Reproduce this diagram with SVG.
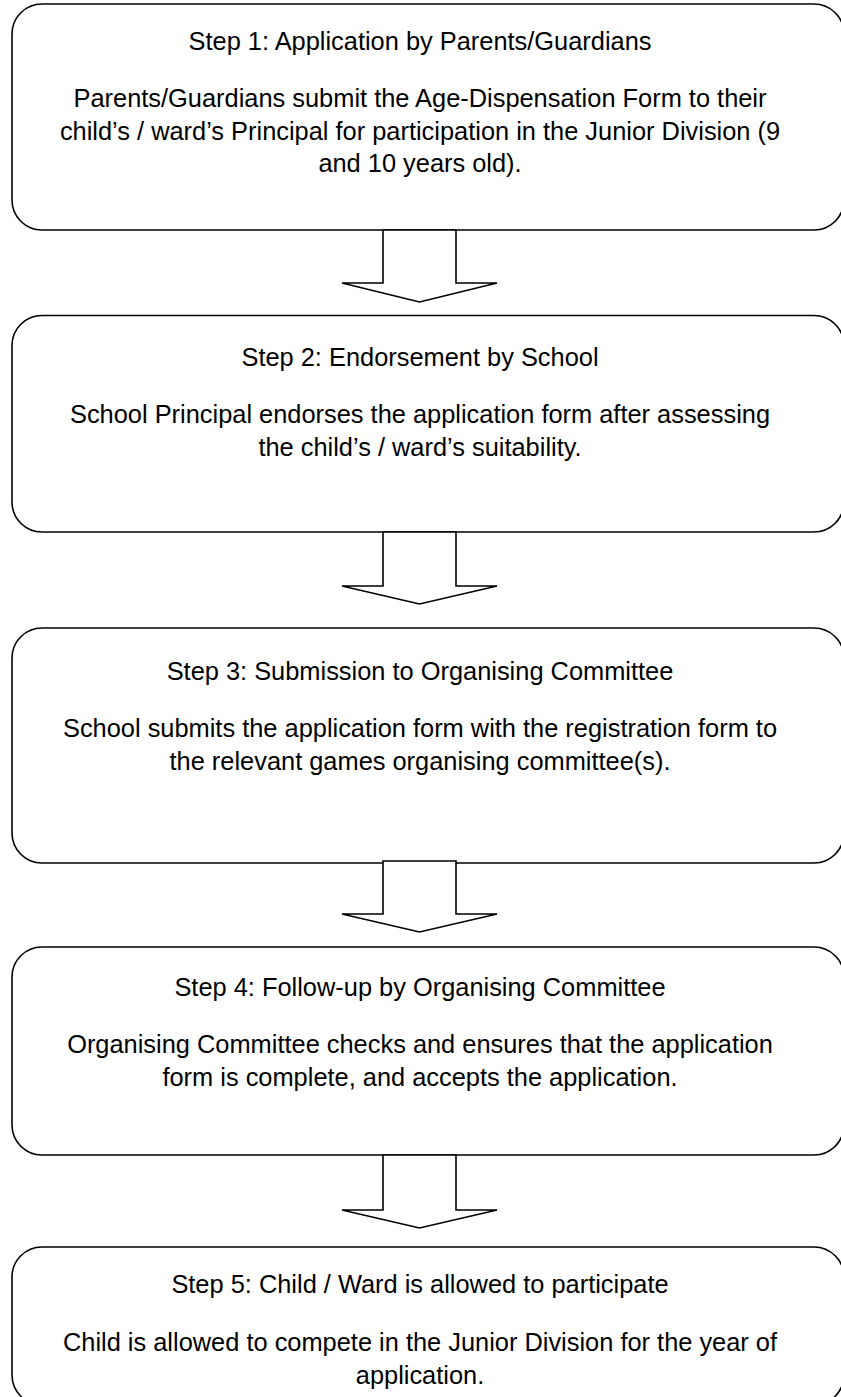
<svg xmlns="http://www.w3.org/2000/svg" width="841" height="1397" viewBox="0 0 841 1397">
<style>
.box{fill:#fff;stroke:#000;stroke-width:1.6}
.arr{fill:#fff;stroke:#000;stroke-width:1.6;stroke-linejoin:miter}
text{font-family:"Liberation Sans",Arial,sans-serif;font-size:25.4px;fill:#000;text-anchor:middle}
</style>
<rect width="841" height="1397" fill="#fff"/>
<g id="step1">
<rect class="box" x="12" y="4" width="832" height="226" rx="30" ry="30"/>
<text x="420" y="50">Step 1: Application by Parents/Guardians</text>
<text x="420" y="107">Parents/Guardians submit the Age-Dispensation Form to their</text>
<text x="420" y="139.5">child’s / ward’s Principal for participation in the Junior Division (9</text>
<text x="420" y="172">and 10 years old).</text>
</g>
<g id="step2">
<rect class="box" x="12" y="315.5" width="832" height="216.5" rx="30" ry="30"/>
<text x="420" y="366">Step 2: Endorsement by School</text>
<text x="420" y="423">School Principal endorses the application form after assessing</text>
<text x="420" y="455.5">the child’s / ward’s suitability.</text>
</g>
<g id="step3">
<rect class="box" x="12" y="628" width="832" height="235" rx="30" ry="30"/>
<text x="420" y="680">Step 3: Submission to Organising Committee</text>
<text x="420" y="737">School submits the application form with the registration form to</text>
<text x="420" y="769.5">the relevant games organising committee(s).</text>
</g>
<g id="step4">
<rect class="box" x="12" y="947" width="832" height="208" rx="30" ry="30"/>
<text x="420" y="996">Step 4: Follow-up by Organising Committee</text>
<text x="420" y="1053">Organising Committee checks and ensures that the application</text>
<text x="420" y="1085.5">form is complete, and accepts the application.</text>
</g>
<g id="step5">
<rect class="box" x="12" y="1247" width="832" height="158" rx="30" ry="30"/>
<text x="420" y="1293">Step 5: Child / Ward is allowed to participate</text>
<text x="420" y="1351">Child is allowed to compete in the Junior Division for the year of</text>
<text x="420" y="1383.5">application.</text>
</g>
<g id="connectors">
<polygon class="arr" points="383,230 456,230 456,283 497,283 419.5,302 342,283 383,283"/>
<polygon class="arr" points="383,532 456,532 456,586 497,586 419.5,604 342,586 383,586"/>
<polygon class="arr" points="383,861 456,861 456,914 497,914 419.5,932 342,914 383,914"/>
<polygon class="arr" points="383,1155 456,1155 456,1210 497,1210 419.5,1228 342,1210 383,1210"/>
</g>
</svg>
